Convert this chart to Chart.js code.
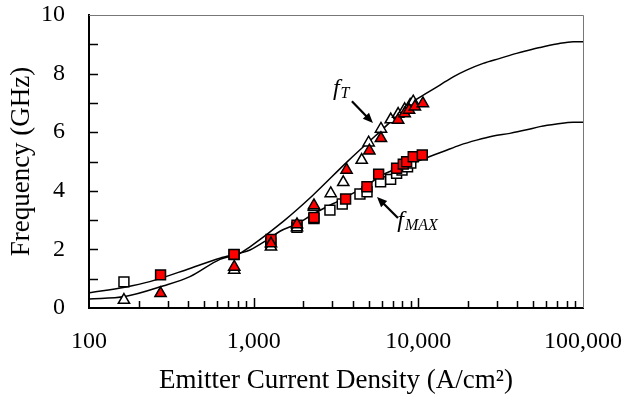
<!DOCTYPE html>
<html>
<head>
<meta charset="utf-8">
<script src="https://cdn.jsdelivr.net/npm/chart.js@4.4.1/dist/chart.umd.min.js"></script>
<style>
  html, body { margin: 0; padding: 0; background: #fff; }
  #wrap { width: 631px; height: 404px; }
</style>
</head>
<body>
<div id="wrap"><canvas id="freq"></canvas></div>
<script>
// x ticks (A/cm2) and y ticks (GHz)
const xTicks = [100, 1000, 10000, 100000];
const yTicks = [0, 2, 4, 6, 8, 10];

// model curves
const fTCurveX = [100, 165, 281, 410, 624, 826, 950, 1507, 2290, 3680, 5850, 9310, 11220, 13520, 16290, 19630, 24770, 31290, 39500, 45470, 54700, 69100, 87300, 100000];
const fTCurveY = [0.31, 0.39, 0.75, 1.07, 1.66, 1.87, 2.09, 2.95, 3.85, 4.98, 6.02, 7.04, 7.33, 7.61, 7.89, 8.12, 8.35, 8.52, 8.69, 8.78, 8.89, 9.01, 9.09, 9.09];
const fMaxCurveX = [100, 165, 234, 410, 624, 826, 950, 1205, 1445, 1833, 2290, 3580, 4940, 5850, 9270, 11220, 14160, 17900, 22600, 28520, 35980, 45470, 54700, 69100, 87300, 100000];
const fMaxCurveY = [0.52, 0.71, 0.90, 1.35, 1.70, 1.87, 1.98, 2.32, 2.62, 2.87, 3.2, 3.77, 4.2, 4.5, 4.95, 5.13, 5.34, 5.56, 5.73, 5.87, 5.96, 6.08, 6.19, 6.28, 6.34, 6.34];

// measured fT (triangles)
const fTOpenX = [163, 762, 1274, 1832, 2323, 2938, 3500, 4530, 4990, 5930, 6800, 7540, 8260, 8920, 9310];
const fTOpenY = [0.27, 1.3, 2.09, 2.75, 3.45, 3.91, 4.29, 5.05, 5.64, 6.11, 6.43, 6.62, 6.78, 6.93, 7.04];
const fTRedX = [272, 762, 1274, 1832, 2323, 3665, 5040, 5930, 7540, 8260, 8780, 9530, 10660];
const fTRedY = [0.5, 1.4, 2.2, 2.85, 3.5, 4.71, 5.37, 5.79, 6.42, 6.64, 6.76, 6.87, 6.98];

// measured fMAX (squares)
const fMaxOpenX = [163, 760, 1270, 1832, 2323, 2905, 3450, 4420, 4880, 5900, 6790, 7380, 7960, 8600, 9000];
const fMaxOpenY = [0.89, 1.82, 2.22, 2.75, 3.05, 3.34, 3.55, 3.89, 3.97, 4.31, 4.39, 4.6, 4.71, 4.82, 4.95];
const fMaxRedX = [272, 760, 1274, 1832, 2323, 3617, 4875, 5740, 7380, 8100, 8490, 9310, 10570];
const fMaxRedY = [1.13, 1.83, 2.34, 2.83, 3.09, 3.72, 4.14, 4.57, 4.77, 4.91, 4.99, 5.16, 5.22];

const pts = (xs, ys) => xs.map((x, i) => ({ x: x, y: ys[i] }));
const SERIF = "'Liberation Serif', 'Times New Roman', serif";

// 안쪽 눈금, 위/오른쪽 테두리, 라벨+화살표
const extras = {
    id: 'extras',
    afterDraw(chart) {
        const { ctx, chartArea: a, scales: { x, y } } = chart;
        ctx.save();
        // frame top/right
        ctx.strokeStyle = '#777';
        ctx.lineWidth = 1;
        ctx.beginPath();
        ctx.moveTo(a.left, a.top + 0.5);
        ctx.lineTo(a.right + 0.5, a.top + 0.5);
        ctx.lineTo(a.right + 0.5, a.bottom);
        ctx.stroke();

        ctx.strokeStyle = '#000';
        ctx.lineWidth = 1.5;
        ctx.beginPath();
        for (let v = 1; v < 10; v++) {
            const py = Math.round(y.getPixelForValue(v)) + 0.5;
            ctx.moveTo(a.left, py);
            ctx.lineTo(a.left + 9, py);
        }
        for (let d = 100; d < 100000; d *= 10) {
            for (let m = 1; m <= 9; m++) {
                if (d === 100 && m === 1) continue;
                const px = Math.round(x.getPixelForValue(d * m)) + 0.5;
                ctx.moveTo(px, a.bottom);
                ctx.lineTo(px, a.bottom - (m === 1 ? 10 : 7));
            }
        }
        ctx.stroke();

        // arrows
        const arrow = (x0, y0, x1, y1) => {
            const p0 = [x.getPixelForValue(x0), y.getPixelForValue(y0)];
            const p1 = [x.getPixelForValue(x1), y.getPixelForValue(y1)];
            const ang = Math.atan2(p1[1] - p0[1], p1[0] - p0[0]);
            ctx.lineWidth = 2.2;
            ctx.beginPath();
            ctx.moveTo(p0[0], p0[1]);
            ctx.lineTo(p1[0] - 6 * Math.cos(ang), p1[1] - 6 * Math.sin(ang));
            ctx.stroke();
            ctx.beginPath();
            ctx.moveTo(p1[0], p1[1]);
            ctx.lineTo(p1[0] - 11 * Math.cos(ang - 0.4), p1[1] - 11 * Math.sin(ang - 0.4));
            ctx.lineTo(p1[0] - 11 * Math.cos(ang + 0.4), p1[1] - 11 * Math.sin(ang + 0.4));
            ctx.closePath();
            ctx.fill();
        };
        ctx.fillStyle = '#000';
        arrow(3950, 7.06, 5300, 6.31);
        arrow(7520, 3.07, 5610, 3.79);

        const label = (sub, xv, yv) => {
            const px = x.getPixelForValue(xv), py = y.getPixelForValue(yv);
            ctx.textBaseline = 'alphabetic';
            ctx.textAlign = 'left';
            ctx.font = `italic 24px ${SERIF}`;
            ctx.fillText('f', px, py);
            const w = ctx.measureText('f').width;
            ctx.font = `italic 16px ${SERIF}`;
            ctx.fillText(sub, px + w + 1, py + 3);
        };
        label('T', 3030, 7.27);
        label('MAX', 7450, 2.78);
        ctx.restore();
    }
};

const markerSet = (data, style, fill, radius, order) => ({
    data: data,
    showLine: false,
    pointStyle: style,
    pointRadius: radius,
    pointHoverRadius: radius,
    pointBackgroundColor: fill,
    pointBorderColor: '#000',
    pointBorderWidth: 1.5,
    order: order
});

const curveSet = (data) => ({
    data: data,
    showLine: true,
    borderColor: '#000',
    borderWidth: 1.5,
    pointRadius: 0,
    cubicInterpolationMode: 'monotone',
    order: 10
});

// 눈금 선은 투명하게 두고 라벨 간격만 확보
const hiddenGrid = len => ({
    display: true,
    drawOnChartArea: false,
    drawTicks: true,
    tickLength: len,
    color: 'rgba(0,0,0,0)',
    tickColor: 'rgba(0,0,0,0)'
});

new Chart(document.getElementById('freq'), {
    type: 'scatter',
    data: {
        datasets: [
            curveSet(pts(fTCurveX, fTCurveY)),
            curveSet(pts(fMaxCurveX, fMaxCurveY)),
            markerSet(pts(fMaxOpenX, fMaxOpenY), 'rect', '#fff', 7, 5),
            markerSet(pts(fMaxRedX, fMaxRedY), 'rect', '#f00', 7, 4),
            markerSet(pts(fTOpenX, fTOpenY), 'triangle', '#fff', 6.5, 3),
            markerSet(pts(fTRedX, fTRedY), 'triangle', '#f00', 6.5, 2)
        ]
    },
    options: {
        responsive: true,
        maintainAspectRatio: false,
        animation: false,
        layout: { padding: { top: 15, right: 48, left: 0, bottom: 0 } },
        plugins: { legend: { display: false }, tooltip: { enabled: false } },
        scales: {
            x: {
                type: 'logarithmic',
                min: 100,
                max: 100000,
                afterBuildTicks: s => { s.ticks = xTicks.map(v => ({ value: v })); },
                afterFit: s => { s.height = 96; },
                grid: hiddenGrid(19),
                border: { display: true, color: '#000', width: 2 },
                ticks: {
                    color: '#000',
                    padding: 0,
                    maxRotation: 0,
                    autoSkip: false,
                    font: { family: SERIF, size: 24 },
                    callback: v => Number(v).toLocaleString('en-US')
                },
                title: {
                    display: true,
                    text: 'Emitter Current Density (A/cm²)',
                    color: '#000',
                    font: { family: SERIF, size: 27, weight: 'normal' },
                    padding: { top: 0, bottom: 7 }
                }
            },
            y: {
                min: 0,
                max: 10,
                afterBuildTicks: s => { s.ticks = yTicks.map(v => ({ value: v })); },
                afterFit: s => { s.width = 89; },
                grid: hiddenGrid(24),
                border: { display: true, color: '#000', width: 2 },
                ticks: {
                    color: '#000',
                    padding: 0,
                    font: { family: SERIF, size: 24 }
                },
                title: {
                    display: true,
                    text: 'Frequency (GHz)',
                    color: '#000',
                    font: { family: SERIF, size: 27, weight: 'normal' },
                    padding: { top: 6, bottom: 0 }
                }
            }
        }
    },
    plugins: [extras]
});
</script>
</body>
</html>
